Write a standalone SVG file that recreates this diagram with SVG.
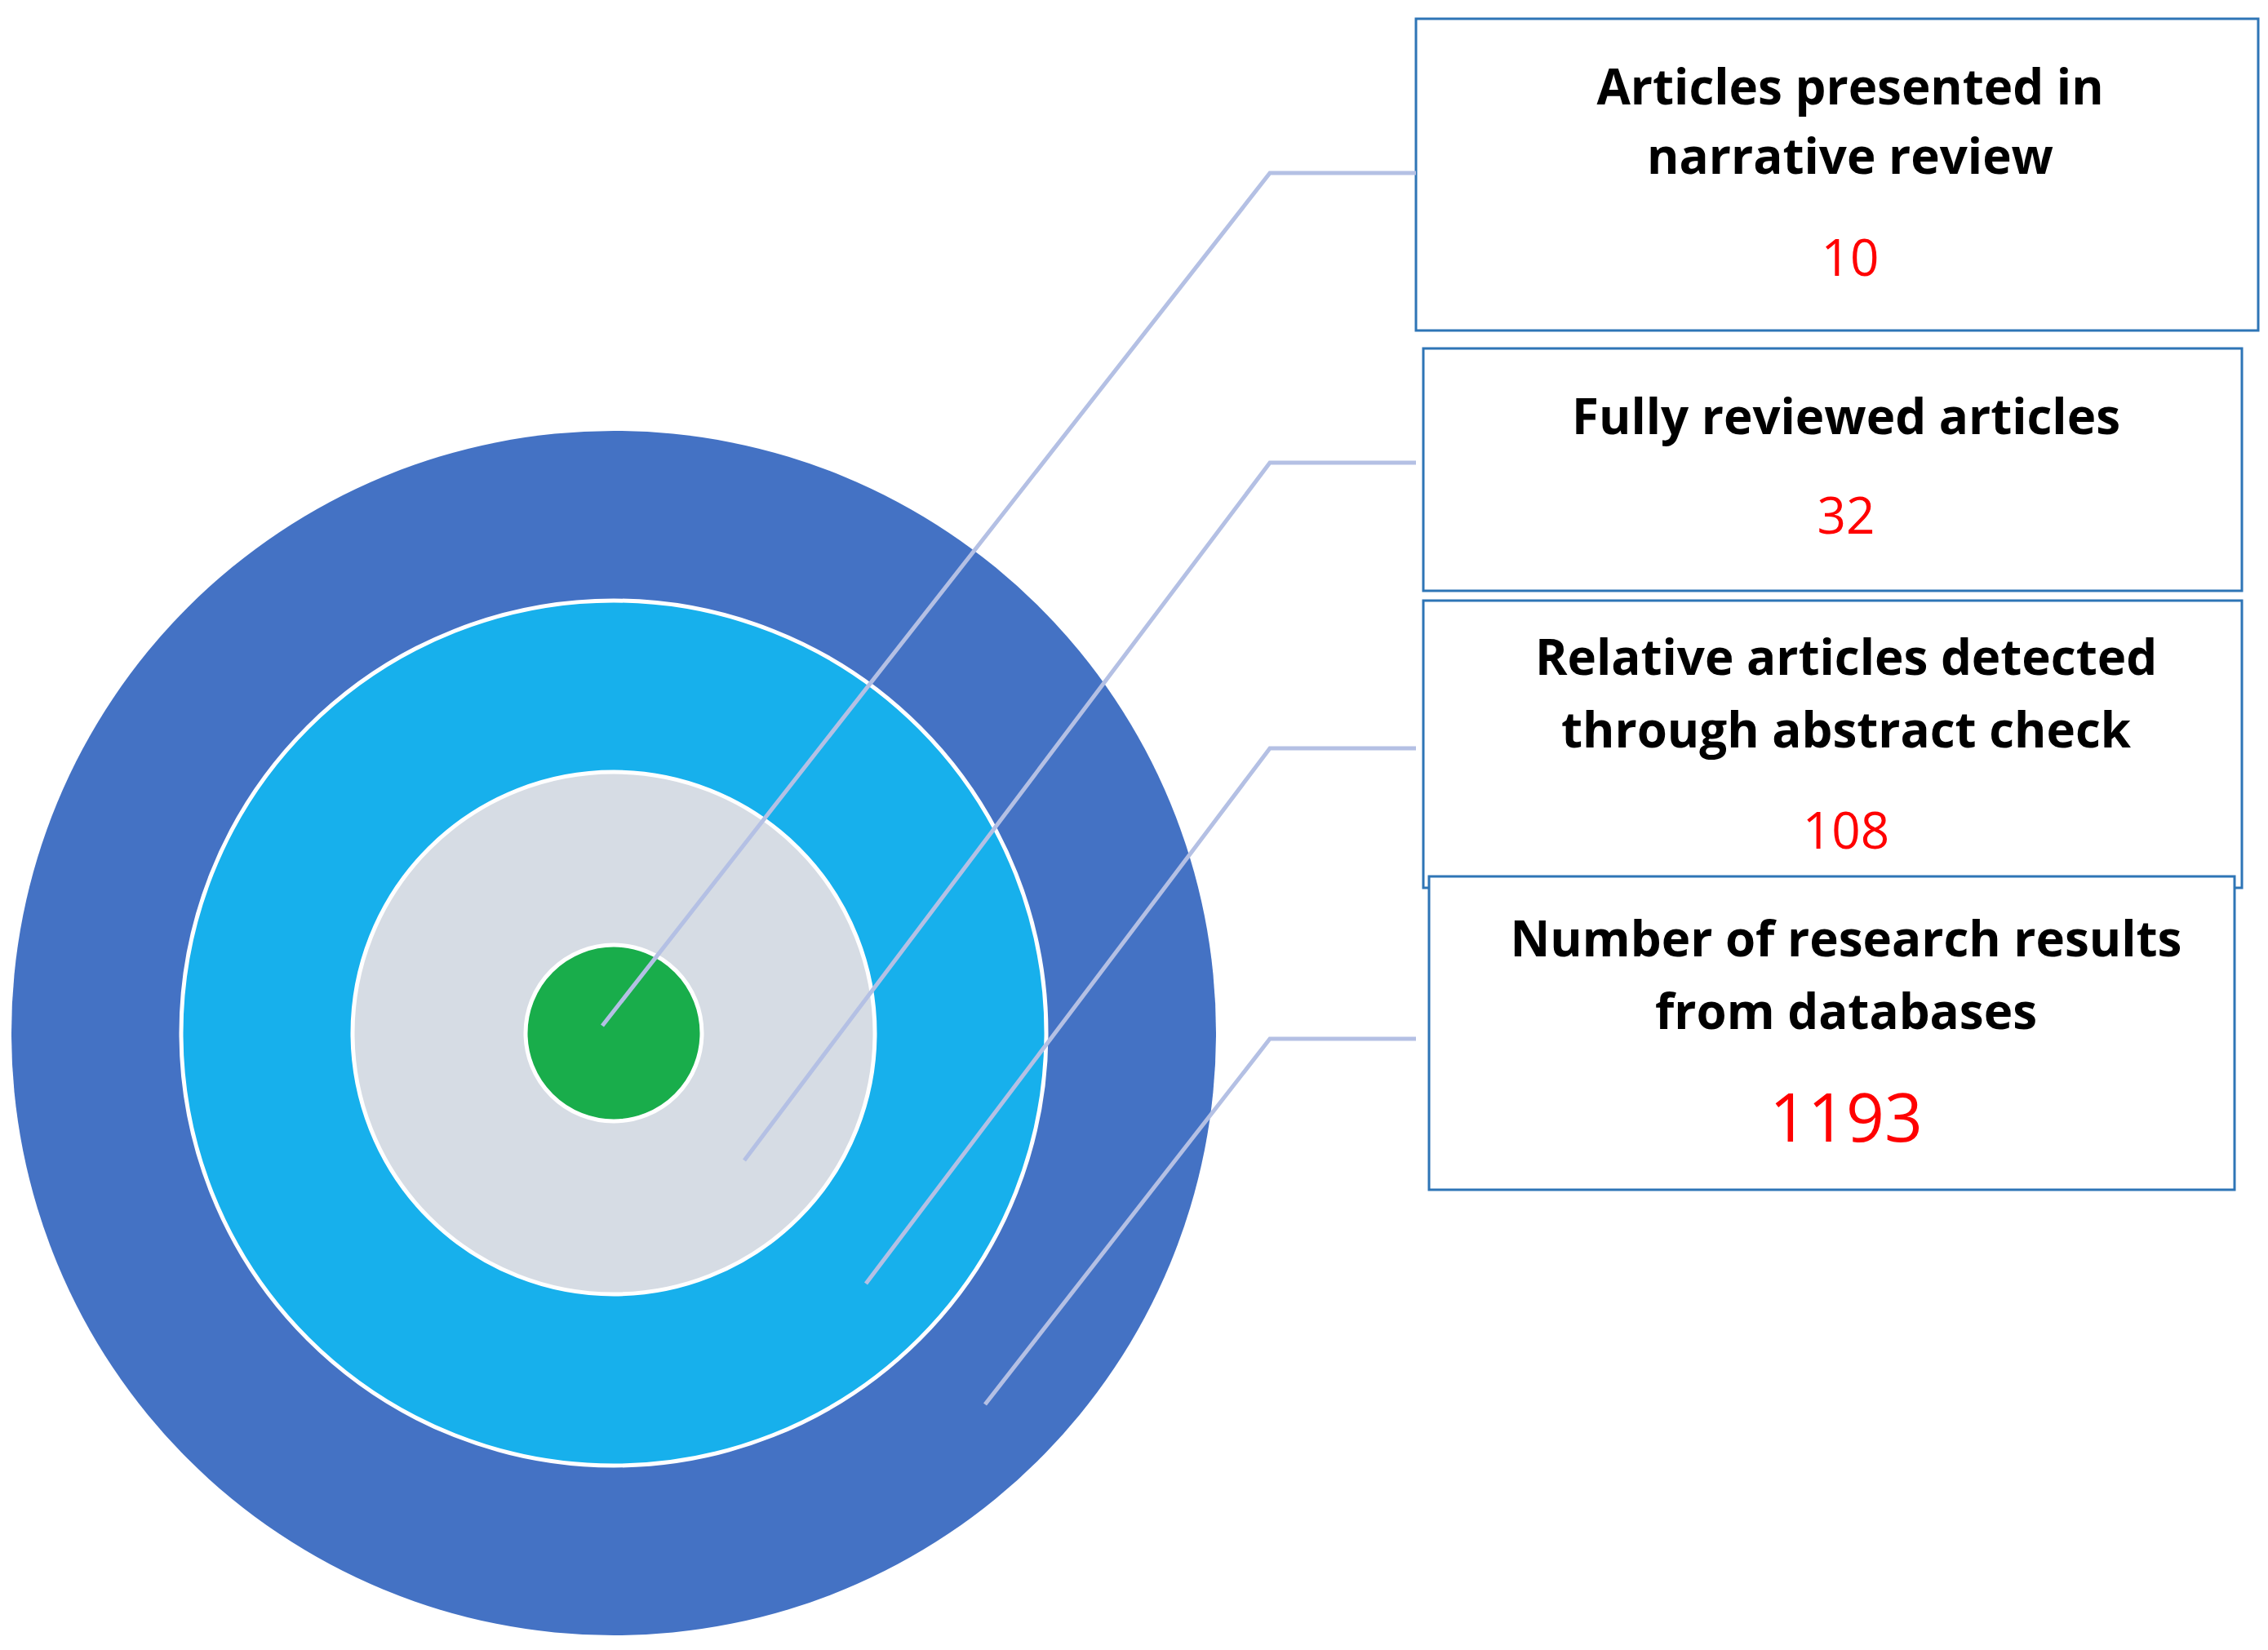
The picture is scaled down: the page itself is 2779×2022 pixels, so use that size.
<svg xmlns="http://www.w3.org/2000/svg" width="2779" height="2022" viewBox="0 0 2779 2022">
<style>
.box{fill:#fff;stroke:#2e75b6;stroke-width:3}
.t{font-family:"Open Sans","Liberation Sans",sans-serif;font-weight:bold;font-size:60px;fill:#000;text-anchor:middle}
.n{font-family:"Open Sans","Liberation Sans",sans-serif;font-size:62px;fill:#ff0000;text-anchor:middle}
.c{fill:none;stroke:#b4c0e4;stroke-width:5}
</style>
<rect width="2779" height="2022" fill="#fff"/>
<g id="target">
<circle cx="752" cy="1266" r="738" fill="#4472c4"/>
<circle cx="752" cy="1266" r="530" fill="#17b0ec" stroke="#fff" stroke-width="5"/>
<circle cx="752" cy="1266" r="320" fill="#d6dce4" stroke="#fff" stroke-width="5"/>
<circle cx="752" cy="1266" r="108" fill="#19ad4b" stroke="#fff" stroke-width="5"/>
</g>
<g id="box1"><rect class="box" x="1735" y="23" width="1032" height="382"/>
<text class="t" x="2267" y="128">Articles presented in</text><text class="t" x="2267" y="213">narrative review</text><text class="n" x="2267" y="338">10</text></g>
<g id="box2"><rect class="box" x="1744" y="427" width="1003" height="297"/>
<text class="t" x="2262" y="532">Fully reviewed articles</text><text class="n" x="2262" y="654">32</text></g>
<g id="box3"><rect class="box" x="1744" y="736" width="1003" height="352"/>
<text class="t" x="2262" y="827">Relative articles detected</text><text class="t" x="2262" y="916">through abstract check</text><text class="n" x="2262" y="1040">108</text></g>
<g id="box4"><rect class="box" x="1751" y="1074" width="987" height="384"/>
<text class="t" x="2262" y="1172">Number of research results</text><text class="t" x="2262" y="1261">from databases</text><text class="n" x="2262" y="1399" style="font-size:82px">1193</text></g>
<g id="connectors">
<polyline class="c" points="1735,212 1556,212 738,1257"/>
<polyline class="c" points="1735,567 1556,567 912,1422"/>
<polyline class="c" points="1735,917 1556,917 1061,1573"/>
<polyline class="c" points="1735,1273 1556,1273 1207,1721"/>
</g>
</svg>
